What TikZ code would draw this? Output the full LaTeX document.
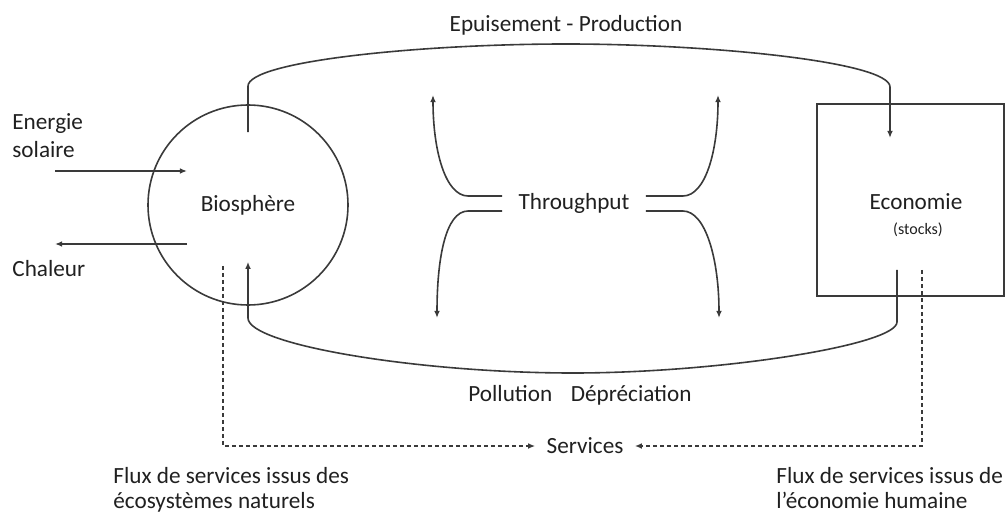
\documentclass[tikz,border=0pt]{standalone}
\usepackage{fontspec}
\setmainfont{Carlito}
\usetikzlibrary{arrows.meta, positioning}
\definecolor{ink}{HTML}{202020}
\definecolor{wire}{HTML}{3A3A3A}

\begin{document}
\begin{tikzpicture}[x=0.5pt, y=-0.5pt,
    lbl/.style={text=ink, font=\fontsize{11.6pt}{14pt}\selectfont, inner sep=0pt},
    flow/.style={draw=wire, line width=0.8pt, -{Latex[length=3.6pt,width=2.9pt]}},
    svc/.style={flow, dash pattern=on 2pt off 1.5pt}]
    \useasboundingbox (0,0) rectangle (1006,513);

    % Biosphere and economy
    \node[lbl, circle, draw=wire, line width=0.8pt, minimum size=100pt] (bio) at (248,205) {Biosphère};
    \node[draw=wire, line width=0.8pt, minimum width=93.5pt, minimum height=96pt] (eco) at (910.5,200) {};
    \node[lbl] (econame) at (916,202) {Economie};
    \node[lbl, font=\fontsize{8pt}{10pt}\selectfont] (stocks) at (918,230) {(stocks)};

    % Sun in, heat out
    \node[lbl, anchor=base west] (sun1) at (12,130) {Energie};
    \node[lbl, anchor=base west] (sun2) at (12,158) {solaire};
    \node[lbl, anchor=base west] (heat) at (12,277) {Chaleur};
    \coordinate (sunsrc) at (55,171);
    \coordinate (sunin) at (187,171);
    \coordinate (heatsrc) at (187,244);
    \coordinate (heatout) at (55,244);
    \draw[flow] (sunsrc) -- (sunin);
    \draw[flow] (heatsrc) -- (heatout);

    % Depletion - production loop
    \node[lbl] (prod) at (566,25) {Epuisement - Production};
    \coordinate (depl) at ([yshift=-14pt]bio.north);
    \coordinate (prodin) at (890,138);
    \draw[flow] (depl) -- ++(0,-46) .. controls +(0,-25) and (420,44) .. (566,44)
        .. controls (712,44) and (890,62) .. (890,87) -- (prodin);

    % Pollution - depreciation loop
    \coordinate (deprout) at (897,270);
    \coordinate (pollin) at ([yshift=22pt]bio.south);
    \draw[flow] (deprout) -- (897,322) .. controls (897,345) and (720,373) .. (573,373)
        .. controls (420,373) and (248,345) .. (248,318) -- (pollin);
    \node[lbl] (poll) at (580,395) {Pollution\hspace{0.8em}Dépréciation};

    % Throughput
    \node[lbl, inner xsep=8pt] (thr) at (574,203) {Throughput};
    \coordinate (tul) at (433,95);
    \coordinate (tdl) at (437,318);
    \coordinate (tur) at (718,95);
    \coordinate (tdr) at (719,318);
    \draw[flow] ([yshift=3.5pt]thr.west) -- ++(-34,0) .. controls +(-23,0) and +(0,55) .. (tul);
    \draw[flow] ([yshift=-4pt]thr.west) -- ++(-34,0) .. controls +(-23,0) and +(0,-58) .. (tdl);
    \draw[flow] ([yshift=3.5pt]thr.east) -- ++(37,0) .. controls +(23,0) and +(0,55) .. (tur);
    \draw[flow] ([yshift=-4pt]thr.east) -- ++(37,0) .. controls +(23,0) and +(0,-58) .. (tdr);

    % Services
    \node[lbl, inner xsep=5.5pt] (serv) at (585,446) {Services};
    \coordinate (natsrc) at ([xshift=-12.5pt,yshift=20pt]bio.south);
    \coordinate (humsrc) at (922,270);
    \draw[svc] (natsrc) |- (serv.west);
    \draw[svc] (humsrc) |- (serv.east);
    \node[lbl, anchor=base west] (natflux1) at (113,483) {Flux de services issus des};
    \node[lbl, anchor=base west] (natflux2) at (113,508) {écosystèmes naturels};
    \node[lbl, anchor=base west] (humflux1) at (776,483) {Flux de services issus de};
    \node[lbl, anchor=base west] (humflux2) at (776,508) {l’économie humaine};
\end{tikzpicture}
\end{document}
